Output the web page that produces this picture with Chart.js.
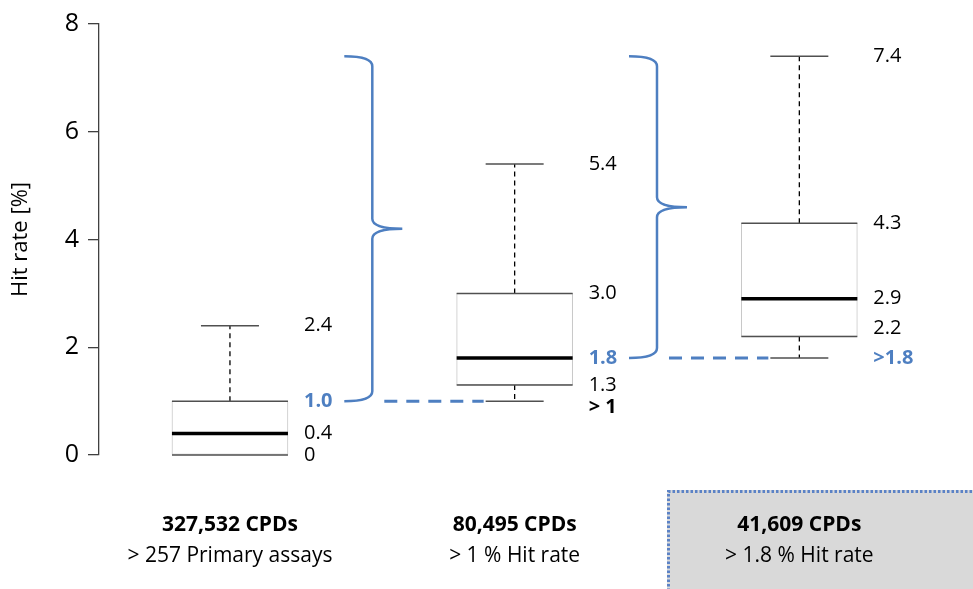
<!DOCTYPE html>
<html>
<head>
<meta charset="utf-8">
<script src="https://cdn.jsdelivr.net/npm/chart.js@4"></script>
<style>
  html, body { margin: 0; padding: 0; background: #fff; }
  #wrap { width: 973px; height: 589px; }
</style>
</head>
<body>
<div id="wrap"><canvas id="box"></canvas></div>
<script>
// categories and box statistics (hit rate %)
const categories = ['327,532 CPDs', '80,495 CPDs', '41,609 CPDs'];
const subtitles = ['> 257 Primary assays', '> 1 % Hit rate', '> 1.8 % Hit rate'];
const whiskerMin = [0, 1.0, 1.8];
const q1 = [0, 1.3, 2.2];
const median = [0.4, 1.8, 2.9];
const q3 = [1.0, 3.0, 4.3];
const whiskerMax = [2.4, 5.4, 7.4];

// printed value labels next to each box
const maxLabels = ['2.4', '5.4', '7.4'];
const q3Labels = ['1.0', '3.0', '4.3'];
const medianLabels = ['0.4', '1.8', '2.9'];
const q1Labels = ['0', '1.3', '2.2'];
const minLabels = ['', '> 1', '>1.8'];

// cut-off braces: from threshold up to top value
const braceFrom = [1.0, 1.8];
const braceTo = [7.4, 7.4];

const yTicks = [0, 2, 4, 6, 8];

const FONT = "'Open Sans', sans-serif";
const BLUE = '#4e7fc1';

// label styling
const labelStyle = { '1.0': 'blue', '1.8': 'blue', '>1.8': 'blue', '> 1': 'bold' };
const labelNudge = { '> 1': 6, '2.2': -8 };

const boxPlotPlugin = {
  id: 'boxPlot',
  beforeDraw(chart) {
    const ctx = chart.ctx;
    ctx.save();
    ctx.fillStyle = '#fff';
    ctx.fillRect(0, 0, chart.width, chart.height);
    // shaded panel behind the last category
    ctx.fillStyle = '#d9d9d9';
    ctx.fillRect(667, 490, chart.width - 667, chart.height - 490);
    ctx.strokeStyle = '#5b82c6';
    ctx.lineWidth = 3;
    ctx.setLineDash([2.5, 2]);
    ctx.beginPath();
    ctx.moveTo(668.5, chart.height + 2);
    ctx.lineTo(668.5, 491.5);
    ctx.lineTo(chart.width + 2, 491.5);
    ctx.stroke();
    ctx.restore();
  },
  afterDatasetsDraw(chart) {
    const ctx = chart.ctx;
    const xs = chart.scales.x;
    const ys = chart.scales.y;
    const half = 58;
    const capHalf = 29;
    ctx.save();

    categories.forEach((c, i) => {
      const cx = xs.getPixelForValue(i);
      const yq1 = ys.getPixelForValue(q1[i]);
      const yq3 = ys.getPixelForValue(q3[i]);
      const ymed = ys.getPixelForValue(median[i]);
      const ymin = ys.getPixelForValue(whiskerMin[i]);
      const ymax = ys.getPixelForValue(whiskerMax[i]);

      // dashed whiskers
      ctx.strokeStyle = '#000';
      ctx.lineWidth = 1.3;
      ctx.setLineDash([5, 4]);
      ctx.beginPath();
      ctx.moveTo(cx, yq3);
      ctx.lineTo(cx, ymax);
      if (whiskerMin[i] < q1[i]) {
        ctx.moveTo(cx, yq1);
        ctx.lineTo(cx, ymin);
      }
      ctx.stroke();
      ctx.setLineDash([]);

      // caps and box edges
      ctx.strokeStyle = '#505050';
      ctx.lineWidth = 1.5;
      ctx.beginPath();
      ctx.moveTo(cx - capHalf, ymax);
      ctx.lineTo(cx + capHalf, ymax);
      if (whiskerMin[i] < q1[i]) {
        ctx.moveTo(cx - capHalf, ymin);
        ctx.lineTo(cx + capHalf, ymin);
      }
      ctx.moveTo(cx - half, yq3);
      ctx.lineTo(cx + half, yq3);
      ctx.moveTo(cx - half, yq1);
      ctx.lineTo(cx + half, yq1);
      ctx.stroke();

      // median
      ctx.strokeStyle = '#000';
      ctx.lineWidth = 3.5;
      ctx.beginPath();
      ctx.moveTo(cx - half, ymed);
      ctx.lineTo(cx + half, ymed);
      ctx.stroke();

      // value labels
      const lx = cx + half + 16;
      const pairs = [
        [maxLabels[i], whiskerMax[i]],
        [q3Labels[i], q3[i]],
        [medianLabels[i], median[i]],
        [q1Labels[i], q1[i]],
        [minLabels[i], whiskerMin[i]]
      ];
      ctx.textAlign = 'left';
      ctx.textBaseline = 'middle';
      pairs.forEach(([txt, v]) => {
        if (!txt) return;
        const st = labelStyle[txt];
        ctx.fillStyle = st === 'blue' ? BLUE : '#000';
        ctx.font = (st ? 'bold ' : '') + '20px ' + FONT;
        ctx.fillText(txt, lx, ys.getPixelForValue(v) + (labelNudge[txt] || 0));
      });

      // category captions
      ctx.fillStyle = '#000';
      ctx.textAlign = 'center';
      ctx.font = 'bold 21px ' + FONT;
      ctx.fillText(c, cx, 525);
      ctx.font = '21px ' + FONT;
      ctx.fillText(subtitles[i], cx, 556);
    });

    // braces between boxes, with dashed link to next box's lower whisker
    braceFrom.forEach((v0, j) => {
      const sx = xs.getPixelForValue(j + 0.5);
      const yb = ys.getPixelForValue(v0);
      const yt = ys.getPixelForValue(braceTo[j]);
      const ym = (yb + yt) / 2;
      const arm = 28, tip = 30, r = 10;
      ctx.strokeStyle = BLUE;
      ctx.lineWidth = 2.5;
      ctx.beginPath();
      ctx.moveTo(sx - arm, yt);
      ctx.quadraticCurveTo(sx, yt, sx, yt + r);
      ctx.lineTo(sx, ym - r);
      ctx.quadraticCurveTo(sx, ym, sx + tip, ym);
      ctx.quadraticCurveTo(sx, ym, sx, ym + r);
      ctx.lineTo(sx, yb - r);
      ctx.quadraticCurveTo(sx, yb, sx - arm, yb);
      ctx.stroke();

      const nx = xs.getPixelForValue(j + 1) - capHalf;
      ctx.lineWidth = 3;
      ctx.setLineDash([13, 9]);
      ctx.beginPath();
      ctx.moveTo(sx + 12, yb);
      ctx.lineTo(nx - 2, yb);
      ctx.stroke();
      ctx.setLineDash([]);
    });

    ctx.restore();
  }
};

new Chart(document.getElementById('box'), {
  type: 'bar',
  data: {
    datasets: [{
      data: categories.map((c, i) => ({ x: i, y: [q1[i], q3[i]] })),
      backgroundColor: '#ffffff',
      borderColor: '#c8c8c8',
      borderWidth: 1,
      borderSkipped: false,
      barThickness: 116
    }]
  },
  options: {
    responsive: true,
    maintainAspectRatio: false,
    animation: false,
    layout: { padding: { top: 24, bottom: 134, left: 0, right: 0 } },
    plugins: { legend: { display: false }, tooltip: { enabled: false } },
    scales: {
      x: {
        type: 'linear',
        min: -0.46,
        max: 2.61,
        offset: false,
        display: false
      },
      y: {
        min: 0,
        max: 8,
        afterBuildTicks(scale) { scale.ticks = yTicks.map(v => ({ value: v })); },
        afterFit(scale) { scale.width = 99; },
        ticks: { color: '#000', font: { family: FONT, size: 25 }, padding: 9 },
        grid: { drawOnChartArea: false, drawTicks: true, tickLength: 11, color: '#404040', lineWidth: 1.3 },
        border: { display: true, color: '#404040', width: 1.3 },
        title: { display: true, text: 'Hit rate [%]', color: '#000', font: { family: FONT, size: 22 }, padding: { top: 8, bottom: 0 } }
      }
    }
  },
  plugins: [boxPlotPlugin]
});
</script>
</body>
</html>
